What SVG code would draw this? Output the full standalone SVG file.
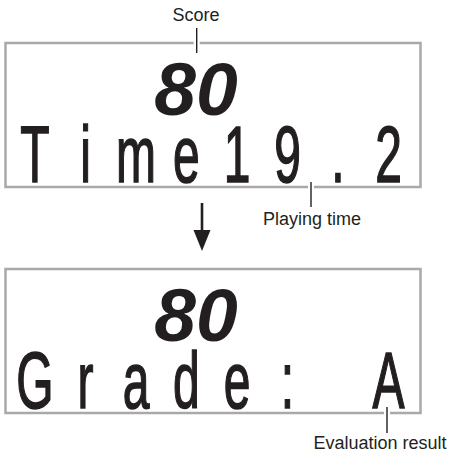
<svg xmlns="http://www.w3.org/2000/svg" width="450" height="456" viewBox="0 0 450 456">
<style>
.box{fill:#fff;stroke:#a9a9a9;stroke-width:2.5}
.seg{font-family:"Liberation Sans",Arial,sans-serif;font-weight:bold;font-style:italic;font-size:75px;fill:#231f20;text-anchor:middle}
.big{font-family:"Liberation Sans",Arial,sans-serif;font-size:80px;fill:#231f20;stroke:#231f20;stroke-width:1.6;text-anchor:middle}
.lbl{font-family:"Liberation Sans",Arial,sans-serif;font-size:18px;fill:#231f20;text-anchor:middle}
.gap{stroke:#fff;stroke-width:6}
.lead{stroke:#231f20;stroke-width:1.4}
</style>
<g id="display-before">
<rect class="box" x="5.5" y="43" width="415" height="144"/>
<text class="seg" x="196" y="115">80</text>
<g transform="scale(0.6,1)">
<text class="big" x="58.3 142.5 226.7 310.8 395 479.2 563.3 647.5" y="182">Time19.2</text>
</g>
</g>
<g id="display-after">
<rect class="box" x="5.5" y="269" width="415" height="144"/>
<text class="seg" x="196" y="341">80</text>
<g transform="scale(0.6,1)">
<text class="big" x="58.3 142.5 226.7 310.8 395 479.2 563.3 647.5" y="408">Grade: A</text>
</g>
</g>
<g id="label-score"><text class="lbl" x="196" y="20.5">Score</text></g>
<g id="label-time"><text class="lbl" x="312" y="225">Playing time</text></g>
<g id="label-eval"><text class="lbl" x="380" y="449">Evaluation result</text></g>
<g id="connectors">
<line class="gap" x1="196.7" y1="38" x2="196.7" y2="48"/>
<line class="lead" x1="196.7" y1="28" x2="196.7" y2="53"/>
<line class="gap" x1="311" y1="183" x2="311" y2="191"/>
<line class="lead" x1="311" y1="182" x2="311" y2="207"/>
<line class="gap" x1="387" y1="409" x2="387" y2="417"/>
<line class="lead" x1="387" y1="407" x2="387" y2="433"/>
<line x1="202" y1="203" x2="202" y2="233" stroke="#231f20" stroke-width="2.6"/>
<polygon points="193.5,230 210.5,230 202,251" fill="#231f20"/>
</g>
</svg>
